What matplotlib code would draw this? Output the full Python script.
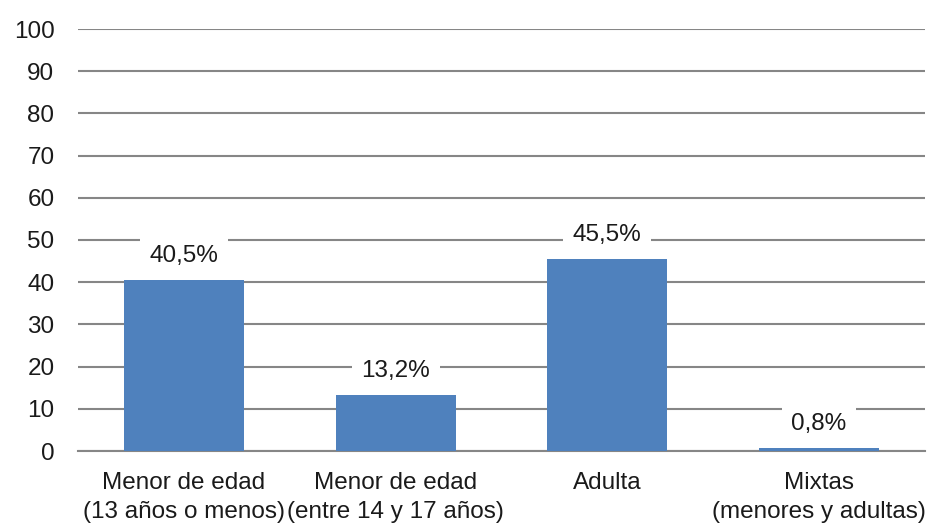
import matplotlib.pyplot as plt
import numpy as np

plt.rcParams['font.family'] = ['Liberation Sans', 'DejaVu Sans']

categories = ['Menor de edad\n(13 años o menos)', 'Menor de edad\n(entre 14 y 17 años)',
              'Adulta', 'Mixtas\n(menores y adultas)']
values = [40.5, 13.2, 45.5, 0.8]
labels = ['40,5%', '13,2%', '45,5%', '0,8%']
yticks = [0, 10, 20, 30, 40, 50, 60, 70, 80, 90, 100]

bar_color = '#4F81BD'
grid_color = '#868686'
text_color = '#1a1a1a'
fs = 17.5

fig = plt.figure(figsize=(9.37, 5.26), dpi=100)
ax = fig.add_axes([78 / 937, 1 - 451 / 526, (925 - 78) / 937, (451 - 29) / 526])

x = np.arange(len(categories))
ax.bar(x, values, width=0.567, color=bar_color, zorder=3)

for xi, v, lab in zip(x, values, labels):
    ax.text(xi, v + 5.7, lab, ha='center', va='center', fontsize=fs, color=text_color,
            zorder=4, bbox=dict(boxstyle='square,pad=0.4', fc='white', ec='none'))

ax.set_xlim(-0.5, len(categories) - 0.5)
ax.set_ylim(0, 100)
ax.set_yticks(yticks)
ax.yaxis.grid(True, color=grid_color, linewidth=1.5, zorder=0)
ax.set_axisbelow(True)
ax.set_xticks(x)
ax.set_xticklabels(categories, fontsize=fs, color=text_color, linespacing=1.4)
ax.tick_params(axis='y', labelsize=fs, labelcolor=text_color, length=0, pad=17)
ax.tick_params(axis='x', length=0, pad=15)
for s in ['top', 'right', 'left']:
    ax.spines[s].set_visible(False)
ax.spines['bottom'].set_color(grid_color)
ax.spines['bottom'].set_linewidth(1.5)

fig.savefig('out.png', dpi=100)
